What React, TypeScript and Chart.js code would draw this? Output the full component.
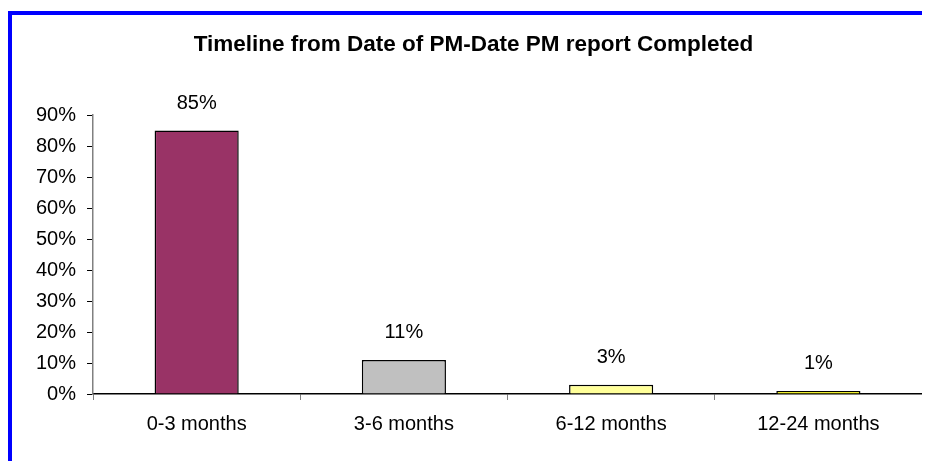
import React, { useEffect, useRef } from "react";
import { Chart, registerables } from "chart.js";

Chart.register(...registerables);

const categories = ["0-3 months", "3-6 months", "6-12 months", "12-24 months"];
const percentValues = [85, 11, 3, 1];
const barColors = ["#993366", "#C0C0C0", "#FFFF99", "#FFFF00"];
const titleText = "Timeline from Date of PM-Date PM report Completed";
const yMax = 90;
const yStep = 10;

const FONT = "'Liberation Sans', Arial, sans-serif";

const valueLabels = {
  id: "valueLabels",
  afterDatasetsDraw(chart: any) {
    const ctx = chart.ctx;
    const meta = chart.getDatasetMeta(0);
    ctx.save();
    ctx.font = `20px ${FONT}`;
    ctx.fillStyle = "#000";
    ctx.textAlign = "center";
    ctx.textBaseline = "middle";
    meta.data.forEach((bar: any, i: number) => {
      ctx.fillText(percentValues[i] + "%", bar.x, bar.y - 27);
    });
    ctx.restore();
  },
};

export default function App() {
  const ref = useRef<HTMLCanvasElement | null>(null);
  useEffect(() => {
    if (!ref.current) return;
    const chart = new Chart(ref.current, {
      type: "bar",
      data: {
        labels: categories,
        datasets: [
          {
            data: percentValues,
            backgroundColor: barColors,
            borderColor: "#000",
            borderWidth: 1.5,
            categoryPercentage: 1,
            barPercentage: 0.406,
          },
        ],
      },
      options: {
        responsive: false,
        animation: false,
        devicePixelRatio: 1,
        layout: { padding: { left: 13, right: 20, top: 0, bottom: 13 } },
        plugins: {
          legend: { display: false },
          tooltip: { enabled: false },
          title: {
            display: true,
            text: titleText,
            color: "#000",
            font: { family: FONT, size: 22.5, weight: "bold" },
            padding: { top: 16, bottom: 57 },
          },
        },
        scales: {
          x: {
            offset: true,
            grid: {
              offset: true,
              drawOnChartArea: false,
              drawTicks: true,
              tickLength: 6,
              color: "#808080",
            },
            border: { display: true, color: "#000", width: 1.5 },
            ticks: { color: "#000", font: { family: FONT, size: 20 }, padding: 12, maxRotation: 0 },
          },
          y: {
            min: 0,
            max: yMax,
            grid: {
              drawOnChartArea: false,
              drawTicks: true,
              tickLength: 6,
              color: "#000",
            },
            border: { display: true, color: "#808080", width: 1.5 },
            ticks: {
              stepSize: yStep,
              color: "#000",
              font: { family: FONT, size: 20 },
              padding: 11,
              callback: (v: any) => v + "%",
            },
          },
        },
      },
      plugins: [valueLabels],
    });
    return () => chart.destroy();
  }, []);

  return (
    <div style={{ width: 922, height: 453, overflow: "hidden", paddingTop: 3, boxSizing: "border-box" }}>
      <div
        style={{
          borderLeft: "4px solid #0000FF",
          borderTop: "4px solid #0000FF",
          width: 960,
          height: 470,
          background: "#fff",
        }}
      >
        <canvas ref={ref} width={930} height={446} style={{ display: "block" }} />
      </div>
    </div>
  );
}
